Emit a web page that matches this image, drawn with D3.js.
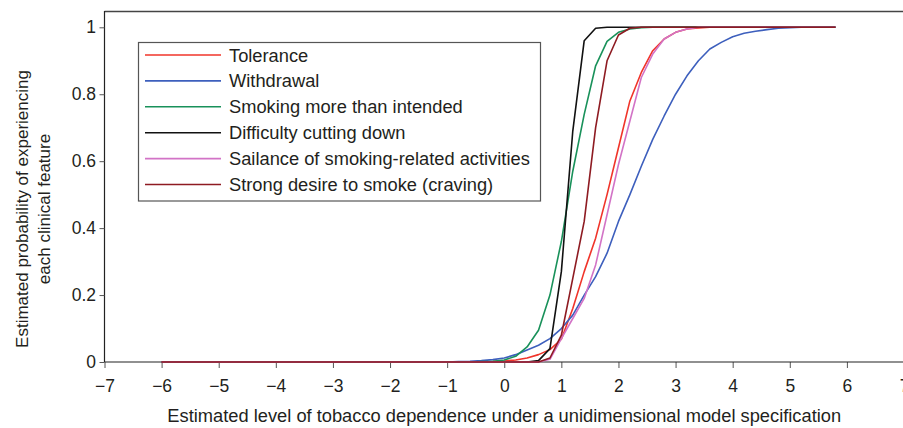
<!DOCTYPE html>
<html><head><meta charset="utf-8">
<script src="https://cdn.jsdelivr.net/npm/d3@7"></script>
<style>
html,body{margin:0;padding:0;background:#fff;}
svg{display:block;}
text{font-family:"Liberation Sans",Arial,Helvetica,sans-serif;fill:#231f20;}
</style></head><body>
<svg id="chart" width="903" height="428"></svg>
<script>
// Latent trait grid (estimated level of tobacco dependence)
const theta = [-6, -1, -0.8, -0.6, -0.4, -0.2, 0, 0.2, 0.4, 0.6, 0.8, 1, 1.2, 1.4, 1.6, 1.8, 2, 2.2, 2.4, 2.6, 2.8, 3, 3.2, 3.4, 3.6, 3.8, 4, 4.2, 4.4, 4.6, 4.8, 5, 5.2, 5.4, 5.6, 5.8];

const tolerance  = [0,0,0,0,0,0.001,0.003,0.006,0.012,0.022,0.037,0.068,0.16,0.27,0.37,0.50,0.64,0.78,0.865,0.93,0.965,0.985,0.995,0.998,1,1,1,1,1,1,1,1,1,1,1,1];
const withdrawal = [0,0,0.001,0.002,0.004,0.007,0.012,0.022,0.036,0.05,0.07,0.10,0.14,0.20,0.255,0.325,0.42,0.50,0.585,0.665,0.735,0.80,0.855,0.90,0.935,0.955,0.972,0.982,0.988,0.993,0.997,0.999,1,1,1,1];
const smokingMore = [0,0,0,0,0.001,0.002,0.006,0.017,0.045,0.095,0.20,0.36,0.57,0.74,0.885,0.958,0.985,0.995,0.999,1,1,1,1,1,1,1,1,1,1,1,1,1,1,1,1,1];
const difficulty = [0,0,0,0,0,0,0,0,0,0.004,0.04,0.27,0.69,0.96,0.997,1,1,1,1,1,1,1,1,1,1,1,1,1,1,1,1,1,1,1,1,1];
const sailance   = [0,0,0,0,0,0,0,0,0,0,0.008,0.07,0.13,0.19,0.29,0.44,0.59,0.72,0.85,0.92,0.965,0.985,0.995,1,1,1,1,1,1,1,1,1,1,1,1,1];
const craving    = [0,0,0,0,0,0,0,0,0,0,0.012,0.08,0.25,0.42,0.70,0.90,0.977,0.997,1,1,1,1,1,1,1,1,1,1,1,1,1,1,1,1,1,1];

const seriesNames = ["Tolerance","Withdrawal","Smoking more than intended","Difficulty cutting down","Sailance of smoking-related activities","Strong desire to smoke (craving)"];
const seriesValues = [tolerance, withdrawal, smokingMore, difficulty, sailance, craving];
const seriesColors = ["#f0342a","#3d5fbd","#19915a","#111111","#d273c6","#8e1b22"];

const xTicks = [-7,-6,-5,-4,-3,-2,-1,0,1,2,3,4,5,6,7];
const yTicks = [0,0.2,0.4,0.6,0.8,1];
const xTitle = "Estimated level of tobacco dependence under a unidimensional model specification";
const yTitleLines = ["Estimated probability of experiencing","each clinical feature"];

const svg = d3.select("#chart");
const left = 104.5, right = 904, bottom = 362, top1 = 27.3, frameTop = 11;

const x = d3.scaleLinear().domain([-7,7]).range([left, right]);
const y = d3.scaleLinear().domain([0,1]).range([bottom, top1]);

// frame
svg.append("line").attr("x1",left).attr("x2",910).attr("y1",frameTop+0.5).attr("y2",frameTop+0.5)
  .attr("stroke","#444").attr("stroke-width",1.5);
svg.append("line").attr("x1",left).attr("x2",left).attr("y1",frameTop).attr("y2",bottom)
  .attr("stroke","#222").attr("stroke-width",1.2);

// x axis
const xAxis = svg.append("g").attr("transform",`translate(0,${bottom})`)
  .call(d3.axisBottom(x).tickValues(xTicks).tickSize(6).tickPadding(12).tickFormat(d3.format("d")));
xAxis.select(".domain").remove();
svg.append("line").attr("x1",left).attr("x2",910).attr("y1",bottom).attr("y2",bottom)
  .attr("stroke","#222").attr("stroke-width",1.2);
xAxis.selectAll(".tick line").attr("stroke","#555");
xAxis.selectAll("text").style("font-size","17.5px").attr("fill","#231f20");

// y axis
const yAxis = svg.append("g").attr("transform",`translate(${left},0)`)
  .call(d3.axisLeft(y).tickValues(yTicks).tickSize(5).tickPadding(3.5).tickFormat(d => d===0||d===1 ? String(d) : d.toFixed(1)));
yAxis.select(".domain").remove();
yAxis.selectAll(".tick line").attr("stroke","#555");
yAxis.selectAll("text").style("font-size","17.5px").attr("fill","#231f20");

// curves
const line = d3.line().x((d,i)=>x(theta[i])).y(d=>y(d));
seriesValues.forEach((vals,k)=>{
  svg.append("path").datum(vals).attr("d",line).attr("fill","none")
    .attr("stroke",seriesColors[k]).attr("stroke-width",1.6).attr("stroke-linejoin","round");
});

// legend
const lg = svg.append("g");
lg.append("rect").attr("x",138.5).attr("y",42.5).attr("width",402).attr("height",158.5)
  .attr("fill","#fff").attr("stroke","#555").attr("stroke-width",1.2);
seriesNames.forEach((n,k)=>{
  const cy = 55 + k*25.9;
  lg.append("line").attr("x1",145).attr("x2",221).attr("y1",cy).attr("y2",cy)
    .attr("stroke",seriesColors[k]).attr("stroke-width",1.6);
  lg.append("text").attr("x",229).attr("y",cy+6.5).style("font-size","18.3px").text(n);
});

// titles
svg.append("text").attr("x",(left+right)/2).attr("y",421.5).attr("text-anchor","middle")
  .style("font-size","18.3px").text(xTitle);
const yt = svg.append("text").attr("transform","translate(0,209) rotate(-90)").attr("text-anchor","middle").style("font-size","17px");
yTitleLines.forEach((t,i)=>{
  yt.append("tspan").attr("x",0).attr("y",28 + i*22).text(t);
});
</script>
</body></html>
